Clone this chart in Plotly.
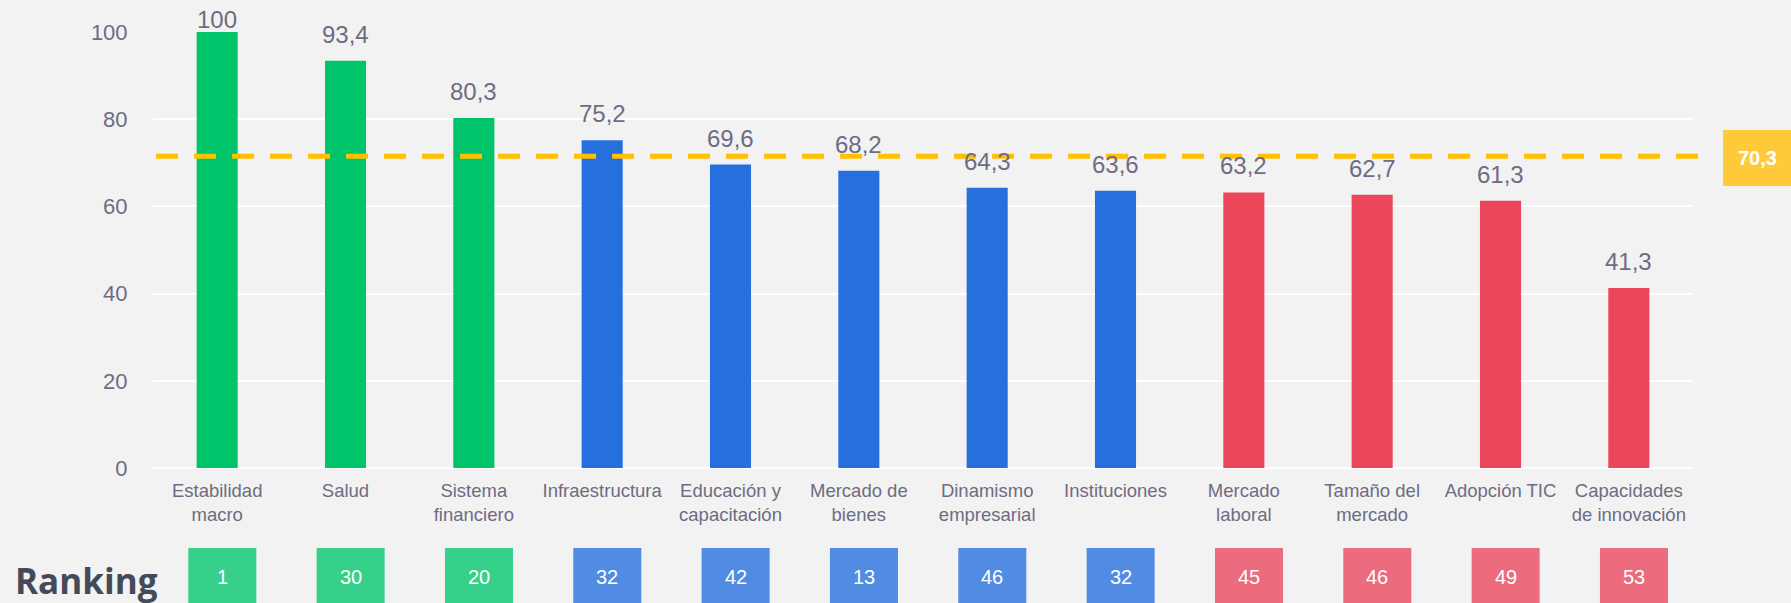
import plotly.graph_objects as go

categories = ["Estabilidad<br>macro", "Salud", "Sistema<br>financiero", "Infraestructura",
              "Educación y<br>capacitación", "Mercado de<br>bienes", "Dinamismo<br>empresarial",
              "Instituciones", "Mercado<br>laboral", "Tamaño del<br>mercado", "Adopción TIC",
              "Capacidades<br>de innovación"]
scores = [100, 93.4, 80.3, 75.2, 69.6, 68.2, 64.3, 63.6, 63.2, 62.7, 61.3, 41.3]
score_labels = ["100", "93,4", "80,3", "75,2", "69,6", "68,2", "64,3", "63,6", "63,2", "62,7", "61,3", "41,3"]
groups = ["top", "top", "top", "mid", "mid", "mid", "mid", "mid", "low", "low", "low", "low"]
rankings = [1, 30, 20, 32, 42, 13, 46, 32, 45, 46, 49, 53]
average_label = "70,3"
average_line_y = 71.5
y_ticks = [0, 20, 40, 60, 80, 100]

bar_colors = {"top": "#00C469", "mid": "#2670DE", "low": "#EC465A"}
box_colors = {"top": "#36D08A", "mid": "#528BE2", "low": "#EC6B7C"}
BG = "#F2F2F2"
TXT = "#6E6C82"
FONT = "Liberation Sans, Arial, sans-serif"

x_idx = list(range(len(categories)))

fig = go.Figure()
fig.add_trace(go.Bar(
    x=x_idx, y=scores,
    marker=dict(color=[bar_colors[g] for g in groups], line=dict(width=0)),
    hoverinfo="skip",
))

shapes = []
annotations = []

# value labels above bars
for i, (v, lab) in enumerate(zip(scores, score_labels)):
    annotations.append(dict(xref="x", yref="y", x=i, y=v, text=lab, showarrow=False,
                            xanchor="center", yanchor="bottom",
                            yshift=(-3 if v >= 100 else 11),
                            font=dict(family=FONT, size=24, color=TXT)))

# average dashed line
shapes.append(dict(type="line", xref="paper", yref="y", x0=0.002, x1=1.005,
                   y0=average_line_y, y1=average_line_y,
                   line=dict(color="#FFC000", width=5, dash="22px,16px"), layer="above"))
# average label box
shapes.append(dict(type="rect", xref="paper", yref="y", x0=1.0195, x1=1.07,
                   y0=64.7, y1=77.5, fillcolor="#FFCA3A", line=dict(width=0)))
annotations.append(dict(xref="paper", yref="y", x=1.0416, y=71.1, text="<b>" + average_label + "</b>",
                        showarrow=False, font=dict(family=FONT, size=20, color="white"),
                        xanchor="center", yanchor="middle"))

# ranking boxes
half = 0.265
for i, (r, g) in enumerate(zip(rankings, groups)):
    cx = i + 0.04
    shapes.append(dict(type="rect", xref="x", yref="paper", x0=cx - half, x1=cx + half,
                       y0=-0.312, y1=-0.1835, fillcolor=box_colors[g], line=dict(width=0)))
    annotations.append(dict(xref="x", yref="paper", x=cx, y=-0.25, text=str(r), showarrow=False,
                            font=dict(family=FONT, size=20, color="white"),
                            xanchor="center", yanchor="middle"))

annotations.append(dict(xref="paper", yref="paper", x=-0.0906, y=-0.259, text="<b>Ranking</b>",
                        showarrow=False, xanchor="left", yanchor="middle",
                        font=dict(family="Open Sans, sans-serif", size=35, color="#434A5A")))

fig.update_layout(
    width=1791, height=603,
    margin=dict(l=153, r=98, t=32, b=135),
    paper_bgcolor=BG, plot_bgcolor=BG,
    bargap=0.68,
    showlegend=False,
    shapes=shapes, annotations=annotations,
    xaxis=dict(tickmode="array", tickvals=x_idx, ticktext=categories, range=[-0.5, 11.5],
               tickfont=dict(family=FONT, size=18.5, color=TXT), showgrid=False,
               showline=False, zeroline=False, ticks="outside", ticklen=6, tickcolor=BG),
    yaxis=dict(range=[0, 100], tickvals=y_ticks, tickfont=dict(family=FONT, size=22, color=TXT),
               showgrid=True, gridcolor="white", gridwidth=2, zeroline=True, zerolinecolor="white",
               zerolinewidth=2, showline=False, ticks="outside", ticklen=20, tickcolor=BG),
)

fig.write_html("out.html", config={"displayModeBar": False},
               post_script="document.body.style.margin='0';document.body.style.overflow='hidden';document.body.style.background='#F2F2F2';")
